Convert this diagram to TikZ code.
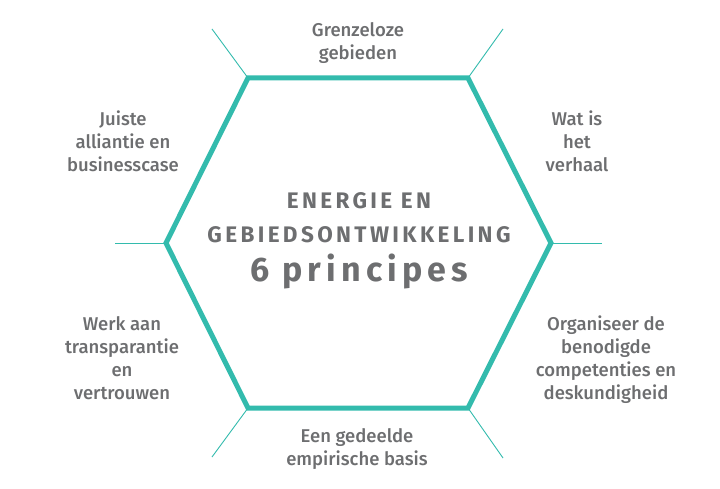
\documentclass[tikz,border=0pt]{standalone}
\usepackage{fontspec}
\setmainfont{Fira Sans}[UprightFont=* Medium, BoldFont=* Bold]
\newfontfamily\ctrfont{Fira Sans}[UprightFont=* Bold, LetterSpace=15]
\newfontfamily\bigfont{Fira Sans}[UprightFont=* Bold, LetterSpace=15]
\definecolor{hexteal}{HTML}{33BBAD}
\definecolor{txtgray}{HTML}{6D6E70}
\begin{document}
\begin{tikzpicture}[x=1pt,y=-1pt,
  hexline/.style={draw=hexteal, line width=5pt, line join=miter},
  spoke/.style={draw=hexteal, line width=0.9pt},
  lbl/.style={text=txtgray, font=\fontsize{18.5}{23}\selectfont, align=center, inner sep=0pt, anchor=north},
  ctr/.style={text=txtgray, inner sep=0pt, anchor=base}]
\useasboundingbox (0,0) rectangle (720,489);
% hexagon vertices
\coordinate (vtl) at (248,78);
\coordinate (vtr) at (468,78);
\coordinate (vr)  at (551,243);
\coordinate (vbr) at (468,408);
\coordinate (vbl) at (248,408);
\coordinate (vl)  at (166,243);
% spoke ends
\coordinate (etl) at (212,29);
\coordinate (etr) at (503,29);
\coordinate (er)  at (602,243);
\coordinate (ebr) at (503,458);
\coordinate (ebl) at (212,457);
\coordinate (el)  at (115,243);
\draw[spoke] (vtl) -- (etl);
\draw[spoke] (vtr) -- (etr);
\draw[spoke] (vr) -- (er);
\draw[spoke] (vbr) -- (ebr);
\draw[spoke] (vbl) -- (ebl);
\draw[spoke] (vl) -- (el);
\draw[hexline] (vtl) -- (vtr) -- (vr) -- (vbr) -- (vbl) -- (vl) -- cycle;
% labels
\node[lbl] (top) at (358,22) {Grenzeloze\\gebieden};
\node[lbl] (tr) at (577,111) {Wat is\\het\\verhaal};
\node[lbl] (br) at (606,316) {Organiseer de\\benodigde\\competenties en\\deskundigheid};
\node[lbl] (bot) at (357,428) {Een gedeelde\\empirische basis};
\node[lbl] (bl) at (122,316) {Werk aan\\transparantie\\en\\vertrouwen};
\node[lbl] (tl) at (123,111) {Juiste\\alliantie en\\businesscase};
% centre
\node[ctr, font=\ctrfont\fontsize{22.5}{26}\selectfont] (c1) at (359,208) {ENERGIE EN};
\node[ctr, font=\ctrfont\fontsize{22.5}{26}\selectfont] (c2) at (359,242) {GEBIEDSONTWIKKELING};
\node[ctr, font=\bigfont\fontsize{34}{38}\selectfont] (c3) at (359,281) {6 principes};
\end{tikzpicture}
\end{document}
